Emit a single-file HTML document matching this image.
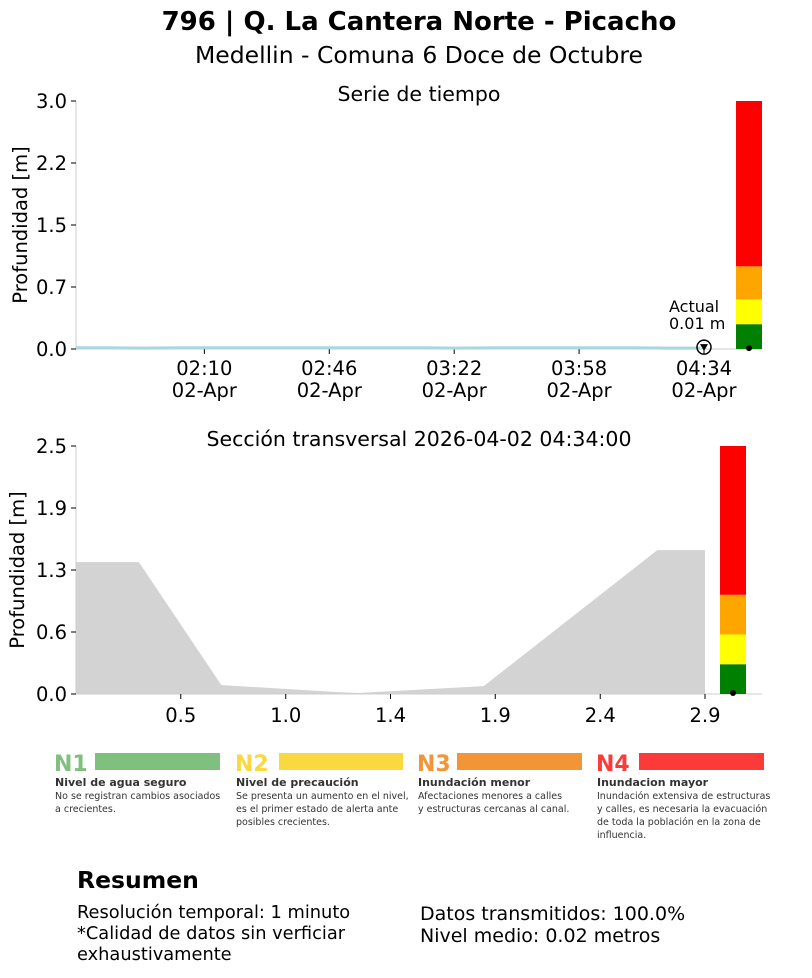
<!DOCTYPE html>
<html><head><meta charset="utf-8">
<style>
body{margin:0;background:#fff;font-family:"Liberation Sans","DejaVu Sans",sans-serif;}
svg text{font-family:"DejaVu Sans","Liberation Sans",sans-serif;}
</style></head>
<body>
<svg id="c" width="812" height="973" xmlns="http://www.w3.org/2000/svg">
<text x="419" y="30" text-anchor="middle" font-size="26" font-weight="bold">796 | Q. La Cantera Norte - Picacho</text>
<text x="419" y="63" text-anchor="middle" font-size="23.5">Medellin - Comuna 6 Doce de Octubre</text>
<text x="419" y="101" text-anchor="middle" font-size="20.5">Serie de tiempo</text>
<text x="419" y="446" text-anchor="middle" font-size="20.5">Sección transversal 2026-04-02 04:34:00</text>
<g id="gtop"></g>
<g id="gbot"></g>
<g>
<text x="54" y="771" font-size="22" font-weight="bold" fill="#80c07f">N1</text><rect x="95" y="753" width="125" height="17" fill="#80c07f"/>
<text x="55" y="786" font-size="11" font-weight="bold" fill="#333">Nivel de agua seguro</text>
<text x="55" y="799" font-size="9.5" fill="#333">No se registran cambios asociados</text><text x="55" y="812" font-size="9.5" fill="#333">a crecientes.</text>
<text x="235" y="771" font-size="22" font-weight="bold" fill="#f9d93f">N2</text><rect x="279" y="753" width="124" height="17" fill="#f9d93f"/>
<text x="236" y="786" font-size="11" font-weight="bold" fill="#333">Nivel de precaución</text>
<text x="236" y="799" font-size="9.5" fill="#333">Se presenta un aumento en el nivel,</text><text x="236" y="812" font-size="9.5" fill="#333">es el primer estado de alerta ante</text><text x="236" y="825" font-size="9.5" fill="#333">posibles crecientes.</text>
<text x="417" y="771" font-size="22" font-weight="bold" fill="#f29536">N3</text><rect x="457" y="753" width="125" height="17" fill="#f29536"/>
<text x="418" y="786" font-size="11" font-weight="bold" fill="#333">Inundación menor</text>
<text x="418" y="799" font-size="9.5" fill="#333">Afectaciones menores a calles</text><text x="418" y="812" font-size="9.5" fill="#333">y estructuras cercanas al canal.</text>
<text x="596" y="771" font-size="22" font-weight="bold" fill="#fd3a3a">N4</text><rect x="639" y="753" width="125" height="17" fill="#fd3a3a"/>
<text x="597" y="786" font-size="11" font-weight="bold" fill="#333">Inundacion mayor</text>
<text x="597" y="799" font-size="9.5" fill="#333">Inundación extensiva de estructuras</text><text x="597" y="812" font-size="9.5" fill="#333">y calles, es necesaria la evacuación</text><text x="597" y="825" font-size="9.5" fill="#333">de toda la población en la zona de</text><text x="597" y="838" font-size="9.5" fill="#333">influencia.</text>
</g>
<text x="77" y="888" font-size="23.5" font-weight="bold">Resumen</text>
<g font-size="17.8">
<text x="77" y="918">Resolución temporal: 1 minuto</text>
<text x="77" y="939">*Calidad de datos sin verficiar</text>
<text x="77" y="960">exhaustivamente</text>
<text x="420" y="920" font-size="19">Datos transmitidos: 100.0%</text>
<text x="420" y="942" font-size="19">Nivel medio: 0.02 metros</text>
</g>
</svg>
<script>
const tsMinutes = [0,10,20,30,40,50,60,70,80,90,100,110,120,130,140,150,160,170,180];
const tsDepth = [0.015,0.015,0.01,0.015,0.015,0.015,0.015,0.015,0.015,0.015,0.015,0.01,0.015,0.015,0.015,0.015,0.015,0.01,0.01];
const tsTickMinutes = [37,73,109,145,181];
const tsTickLabels = ["02:10","02:46","03:22","03:58","04:34"];
const depthTicksTop = [0,0.75,1.5,2.25,3.0];
const depthLabelsTop = ["0.0","0.7","1.5","2.2","3.0"];
const thresholds = [0.3,0.6,1.0];
const thresholdColors = ["green","yellow","orange","red"];
const currentDepth = 0.01;
const secX = [0,0.29,0.67,1.2,1.3,1.88,2.68,2.9];
const secY = [1.33,1.33,0.09,0.02,0.01,0.08,1.45,1.45];
const secXTicks = [0.483,0.967,1.45,1.933,2.417,2.9];
const depthTicksBot = [0,0.625,1.25,1.875,2.5];
const depthLabelsBot = ["0.0","0.6","1.3","1.9","2.5"];
const NS="http://www.w3.org/2000/svg";
function mk(p,t,a){const e=document.createElementNS(NS,t);for(const k in a)e.setAttribute(k,a[k]);p.appendChild(e);return e;}
const gTop=document.getElementById('gtop'), gBot=document.getElementById('gbot');
const FS=19.5;
const tx=m=>76+m*(704-76)/181, ty=v=>349-v*(248/3);
mk(gTop,'line',{x1:76,y1:101,x2:76,y2:349,stroke:'#ccc'});
mk(gTop,'line',{x1:76,y1:349,x2:762,y2:349,stroke:'#ccc'});
depthTicksTop.forEach((v,i)=>{mk(gTop,'line',{x1:71,x2:76,y1:ty(v),y2:ty(v),stroke:'#000'});
 const t=mk(gTop,'text',{x:67,y:ty(v)+7,'text-anchor':'end','font-size':FS});t.textContent=depthLabelsTop[i];
 
 });
tsTickMinutes.forEach((m,i)=>{mk(gTop,'line',{x1:tx(m),x2:tx(m),y1:349,y2:354,stroke:'#000'});
 const t=mk(gTop,'text',{x:tx(m),y:375,'text-anchor':'middle','font-size':FS});t.textContent=tsTickLabels[i];
 
 
 const d=mk(gTop,'text',{x:tx(m),y:397,'text-anchor':'middle','font-size':FS});d.textContent='02-Apr';});
const yl=mk(gTop,'text',{x:27,y:225,'text-anchor':'middle','font-size':FS,transform:'rotate(-90 27 225)'});yl.textContent='Profundidad [m]';


const ln=mk(gTop,'polyline',{points:tsMinutes.map((m,i)=>tx(m)+','+ty(tsDepth[i])).join(' '),fill:'none',stroke:'#a6d8de','stroke-width':3});


function bar(g,x,w,ys,max){const b=[0,...thresholds,max];for(let i=0;i<4;i++){const r=mk(g,'rect',{x:x,width:w,y:ys(b[i+1]),height:ys(b[i])-ys(b[i+1]),fill:thresholdColors[i]});
 
 }
 mk(g,'circle',{cx:x+w/2,cy:ys(currentDepth),r:3,fill:'#000'});}
bar(gTop,736,26,ty,3);
const cx=tx(181),cy=ty(currentDepth);
mk(gTop,'circle',{cx:cx,cy:cy-1,r:7,fill:'none',stroke:'#000','stroke-width':1.5});
mk(gTop,'path',{d:`M${cx-4} ${cy-4} L${cx+4} ${cy-4} L${cx} ${cy+3}Z`,fill:'#000'});
const a1=mk(gTop,'text',{x:669,y:312,'font-size':16});a1.textContent='Actual';


const a2=mk(gTop,'text',{x:669,y:329,'font-size':16});a2.textContent=currentDepth.toFixed(2)+' m';
const bx=v=>76+v*(705-76)/2.9, by=v=>694-v*(248/2.5);
const poly=secX.map((x,i)=>bx(x)+','+by(secY[i])).join(' ')+` ${bx(2.9)},${by(0)} ${bx(0)},${by(0)}`;
const pg=mk(gBot,'polygon',{points:poly,fill:'#d3d3d3'});


mk(gBot,'line',{x1:76,y1:446,x2:76,y2:694,stroke:'#ccc'});
mk(gBot,'line',{x1:76,y1:694,x2:762,y2:694,stroke:'#ccc'});
depthTicksBot.forEach((v,i)=>{mk(gBot,'line',{x1:71,x2:76,y1:by(v),y2:by(v),stroke:'#000'});
 const t=mk(gBot,'text',{x:67,y:by(v)+7,'text-anchor':'end','font-size':FS});t.textContent=depthLabelsBot[i];
 
 });
secXTicks.forEach(v=>{mk(gBot,'line',{x1:bx(v),x2:bx(v),y1:694,y2:699,stroke:'#000'});
 const t=mk(gBot,'text',{x:bx(v),y:722,'text-anchor':'middle','font-size':FS});t.textContent=v.toFixed(1);
 
 });
const yl2=mk(gBot,'text',{x:24,y:570,'text-anchor':'middle','font-size':FS,transform:'rotate(-90 24 570)'});yl2.textContent='Profundidad [m]';


bar(gBot,720,26,by,2.5);
</script>
</body></html>
